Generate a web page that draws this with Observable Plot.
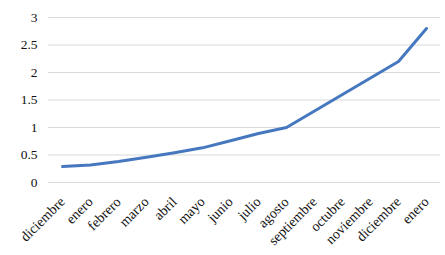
<!DOCTYPE html>
<html>
<head>
<meta charset="utf-8">
<script src="https://cdn.jsdelivr.net/npm/d3@7"></script>
<script src="https://cdn.jsdelivr.net/npm/@observablehq/plot@0.6"></script>
<style>
  html, body { margin: 0; padding: 0; background: #fff; }
  #chart svg, #chart svg text { font-family: "Liberation Serif", "Times New Roman", serif !important; }
</style>
</head>
<body>
<div id="chart"></div>
<script>
const months = ["diciembre", "enero", "febrero", "marzo", "abril", "mayo", "junio", "julio", "agosto", "septiembre", "octubre", "noviembre", "diciembre", "enero"];
const values = [0.29, 0.32, 0.38, 0.46, 0.54, 0.63, 0.76, 0.89, 1.0, 1.3, 1.6, 1.9, 2.2, 2.8];
const yTicks = [0, 0.5, 1, 1.5, 2, 2.5, 3];

const data = months.map((m, i) => ({i, month: m, value: values[i]}));
const serif = "Liberation Serif";

const chart = Plot.plot({
  width: 445,
  height: 255,
  marginTop: 17,
  marginBottom: 73,
  marginLeft: 48,
  marginRight: 5,
  style: {fontFamily: serif, fontSize: "13px", color: "#111", background: "#fff"},
  x: {type: "point", domain: d3.range(months.length), padding: 0.5, label: null},
  y: {domain: [0, 3], label: null},
  marks: [
    Plot.ruleY(yTicks, {stroke: "#d9d9d9", strokeWidth: 1}),
    Plot.axisY({ticks: yTicks, tickFormat: d => String(d), tickSize: 0, tickPadding: 11, label: null, fontSize: 13.5, fontFamily: serif}),
    Plot.axisX({tickFormat: i => months[i], tickSize: 0, tickPadding: 17, tickRotate: -45, label: null, fontSize: 14, fontFamily: serif}),
    Plot.line(data, {x: "i", y: "value", stroke: "#4678bf", strokeWidth: 3, strokeLinejoin: "round", strokeLinecap: "round"})
  ]
});
document.getElementById("chart").appendChild(chart);
</script>
</body>
</html>
